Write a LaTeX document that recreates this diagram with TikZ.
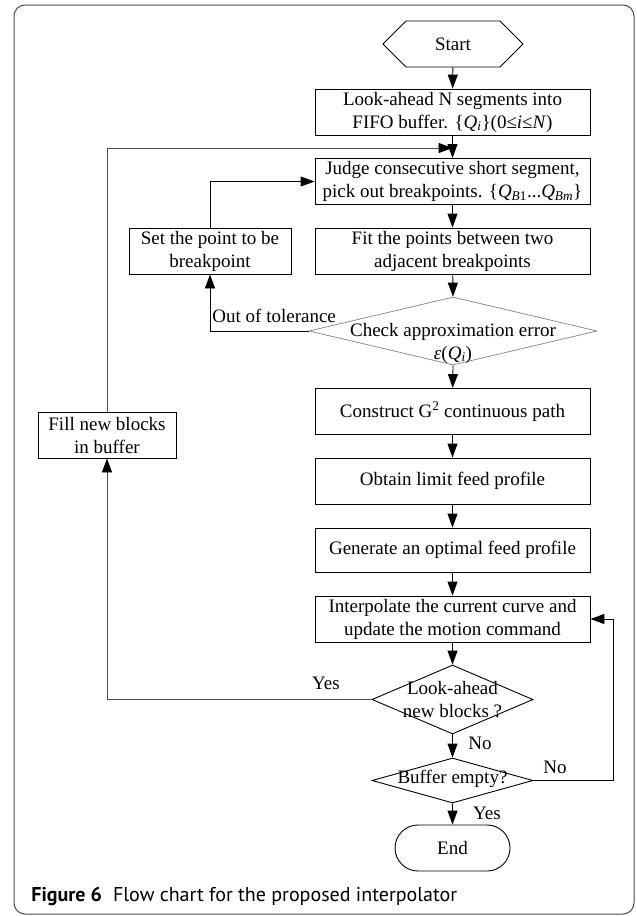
\documentclass[tikz,border=0pt]{standalone}
\usepackage{fontspec}
\setmainfont{Liberation Serif}
\newfontfamily\capfont{PT Sans}
\usetikzlibrary{shapes.geometric,shapes.symbols,shapes.misc,arrows.meta}
\begin{document}
\begin{tikzpicture}[x=1pt,y=-1pt,line width=0.9pt,
  font=\fontsize{19}{23}\selectfont,
  box/.style={draw, rectangle, align=center, inner sep=0pt, minimum height=46pt},
  mainbox/.style={box, minimum width=275pt},
  dia/.style={draw, diamond, inner sep=0pt},
  lbl/.style={inner sep=0pt, align=center},
  arr/.style={-{Triangle[length=14pt,width=10pt,color=black]}},
  frame/.style={draw=gray!60!black, line width=1pt, rounded corners=11pt}]
\useasboundingbox (0,0) rectangle (637,916);
\draw[frame] (14,5) rectangle (634,914);

% main column
\node[signal, signal to=west and east, signal pointer angle=90, draw,
      minimum width=140pt, minimum height=46pt, inner sep=0pt] (start) at (453,44) {Start};
\node[mainbox] (b1) at (452.5,112) {Look-ahead N segments into\\FIFO buffer. \{\textit{Q}\textsubscript{\textit{i}}\}(0≤\textit{i}≤\textit{N})};
\node[mainbox] (b2) at (452.5,181.5) {Judge consecutive short segment,\\pick out breakpoints. \{\textit{Q}\textsubscript{\textit{B}1}...\textit{Q}\textsubscript{\textit{Bm}}\}};
\node[mainbox] (b3) at (452.5,251) {Fit the points between two\\adjacent breakpoints};
\node[dia, draw=gray, line width=0.7pt, minimum width=288pt, minimum height=68pt] (d1) at (453,331) {};
\node[lbl] (d1t) at (453,343) {Check approximation error\\\textit{ε}(\textit{Q}\textsubscript{\textit{i}})};
\node[mainbox] (b4) at (452.5,411.5) {Construct G\textsuperscript{2} continuous path};
\node[mainbox] (b5) at (452.5,481) {Obtain limit feed profile};
\node[mainbox, minimum height=44pt] (b6) at (452.5,550) {Generate an optimal feed profile};
\node[mainbox] (b7) at (452.5,619) {Interpolate the current curve and\\update the motion command};
\node[dia, minimum width=161pt, minimum height=69pt] (d2) at (452.5,699.5) {};
\node[lbl] (d2t) at (452.5,699.5) {Look-ahead\\new blocks ?};
\node[dia, minimum width=161pt, minimum height=45pt] (d3) at (452.5,780.5) {};
\node[lbl] (d3t) at (452.5,779) {Buffer empty?};
\node[rounded rectangle, draw, minimum width=115pt, minimum height=46pt, inner sep=0pt] (end) at (452.5,848) {End};

% side boxes
\node[box, minimum width=162pt] (set) at (210,251) {Set the point to be\\breakpoint};
\node[box, minimum width=138pt] (fill) at (107,435) {Fill new blocks\\in buffer};

% helper coordinates
\coordinate (m1) at (452.5,148);
\coordinate (r1) at (613,780.5);

% main flow
\draw[arr] (start) -- (b1);
\draw[arr] (b1) -- (b2);
\draw[arr] (b2) -- (b3);
\draw[arr] (b3) -- (d1.north);
\draw[arr] (d1.south) -- (b4);
\draw[arr] (b4) -- (b5);
\draw[arr] (b5) -- (b6);
\draw[arr] (b6) -- (b7);
\draw[arr] (b7) -- (d2.north);
\draw[arr] (d2.south) -- (d3.north);
\draw[arr] (d3.south) -- (end);

% loops
\draw[arr] (d1.west) -| (set.south);
\draw[arr] (set.north) |- (b2.west);
\draw[arr, draw=gray!60!black] (d2.west) -| (fill.south);
\draw[arr, draw=gray!60!black] (fill.north) |- (m1);
\draw[arr] (d3.east) -- (r1) |- (b7.east);

% labels
\node[lbl, anchor=west] (tol) at (212,316) {Out of tolerance};
\node[lbl] (yes1) at (326,683) {Yes};
\node[lbl] (no1) at (480,743) {No};
\node[lbl] (no2) at (555,767) {No};
\node[lbl] (yes2) at (487,813) {Yes};

% caption
\node[anchor=base west, inner sep=0pt, font=\capfont\fontsize{20}{24}\selectfont] (cap) at (31,901)
  {\textbf{Figure 6}\hspace{0.55em}Flow chart for the proposed interpolator};
\end{tikzpicture}
\end{document}
